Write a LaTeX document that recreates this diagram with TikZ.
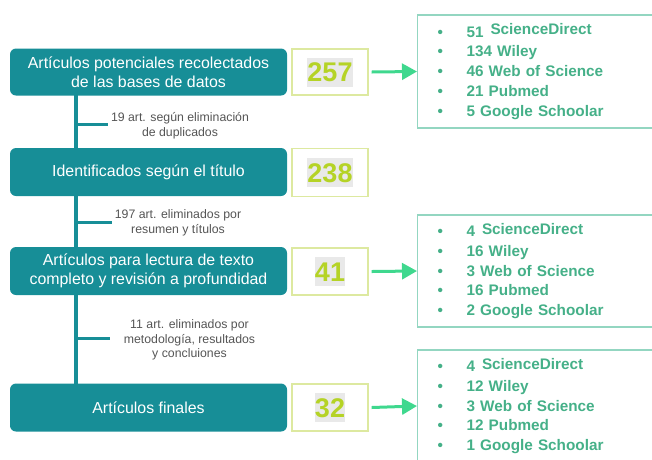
\documentclass[tikz,border=0pt]{standalone}
\usepackage{fontspec}
\setmainfont{Liberation Sans}
\usetikzlibrary{arrows.meta}
\definecolor{tealbox}{HTML}{178E97}
\definecolor{numcol}{HTML}{B5D326}
\definecolor{numborder}{HTML}{DDE9A0}
\definecolor{numbg}{HTML}{E9E9E9}
\definecolor{arrowgreen}{HTML}{3FD88E}
\definecolor{listborder}{HTML}{93D6C1}
\definecolor{listtext}{HTML}{45B088}
\definecolor{labelgray}{HTML}{555555}
\newcommand{\numhl}[1]{{\setlength{\fboxsep}{0pt}\colorbox{numbg}{\rule[-5pt]{0pt}{29pt}#1}}}
\newcommand{\bul}{\makebox[29pt][l]{\textbullet}}
\tikzset{
  stagebox/.style={fill=tealbox, rounded corners=6pt, text=white, minimum width=277pt,
    minimum height=47pt, align=center, inner sep=0pt, font=\fontsize{15.9}{19.5}\selectfont},
  numbox/.style={draw=numborder, line width=1.3pt, minimum width=76pt, minimum height=46pt,
    inner sep=0pt, text=numcol, font=\fontsize{27}{30}\selectfont\bfseries},
  listbox/.style={draw=listborder, line width=1.2pt, minimum width=250pt, minimum height=112pt,
    anchor=west, align=left, text width=212pt, inner xsep=20pt, text=listtext,
    font=\fontsize{15.3}{19.7}\selectfont\bfseries},
  elimlabel/.style={align=center, text=labelgray, inner sep=1pt, font=\fontsize{12.3}{14.8}\selectfont},
  mainline/.style={draw=tealbox, line width=4pt},
  tick/.style={draw=tealbox, line width=3pt},
  greenarrow/.style={draw=arrowgreen, line width=3pt, -{Triangle[length=15pt,width=16pt]}}
}
\begin{document}
\begin{tikzpicture}[x=1pt,y=-1pt]
\useasboundingbox (0,0) rectangle (652,459);
% main vertical line (behind boxes)
\coordinate (top) at (76,80);
\coordinate (bot) at (76,400);
\draw[mainline] (top) -- (bot);
% stage boxes
\node[stagebox] (b1) at (148.5,72) {Artículos potenciales recolectados\\de las bases de datos};
\node[stagebox, minimum height=48pt] (b2) at (148.5,172) {Identificados según el título};
\node[stagebox, minimum height=48pt] (b3) at (148.5,271) {Artículos para lectura de texto\\completo y revisión a profundidad};
\node[stagebox, minimum height=48pt] (b4) at (148.5,407.5) {Artículos finales};
% elimination labels and ticks
\node[elimlabel] (l1) at (180,126) {19 art. según eliminación\\de duplicados};
\node[elimlabel] (l2) at (178,222.5) {197 art. eliminados por\\resumen y títulos};
\node[elimlabel] (l3) at (189.5,340) {11 art. eliminados por\\metodología, resultados\\y concluiones};
\coordinate (s1) at (76,124);
\coordinate (e1) at (108,124);
\coordinate (s2) at (76,222);
\coordinate (e2) at (112,222);
\coordinate (s3) at (76,338);
\coordinate (e3) at (110,338);
\draw[tick] (s1) -- (e1);
\draw[tick] (s2) -- (e2);
\draw[tick] (s3) -- (e3);
% number boxes
\node[numbox] (n1) at (330,72) {\numhl{257}};
\node[numbox, minimum height=48pt] (n2) at (330,172.5) {\numhl{238}};
\node[numbox, minimum height=47pt] (n3) at (330,271.5) {\numhl{41}};
\node[numbox, minimum height=47pt] (n4) at (330,407.5) {\numhl{32}};
% list boxes
\node[listbox, minimum height=113pt] (r1) at (417,71.5) {\bul 51\hspace{0.45em}\raisebox{2.5pt}{ScienceDirect}\\\bul 134 Wiley\\\bul 46 Web of Science\\\bul 21 Pubmed\\\bul 5 Google Schoolar};
\node[listbox] (r2) at (417,271) {\bul 4\hspace{0.45em}\raisebox{2.5pt}{ScienceDirect}\\\bul 16 Wiley\\\bul 3 Web of Science\\\bul 16 Pubmed\\\bul 2 Google Schoolar};
\node[listbox] (r3) at (417,406) {\bul 4\hspace{0.45em}\raisebox{2.5pt}{ScienceDirect}\\\bul 12 Wiley\\\bul 3 Web of Science\\\bul 12 Pubmed\\\bul 1 Google Schoolar};
% arrows
\draw[greenarrow] ([xshift=3pt]n1.east) -- (r1.west);
\draw[greenarrow] ([xshift=3pt]n3.east) -- (r2.west);
\draw[greenarrow] ([xshift=3pt]n4.east) -- (r3.west);
\end{tikzpicture}
\end{document}
